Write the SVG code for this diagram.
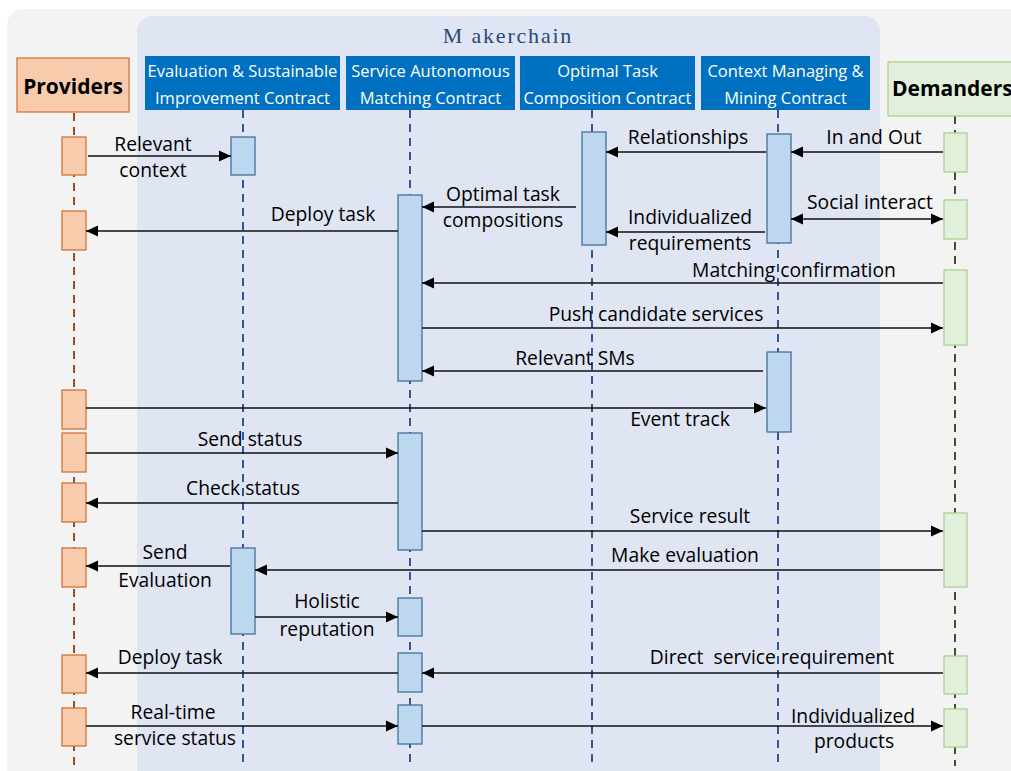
<svg xmlns="http://www.w3.org/2000/svg" width="1011" height="771" viewBox="0 0 1011 771">
  <defs>
    <marker id="head" viewBox="0 0 12 12" refX="12" refY="6" markerWidth="12" markerHeight="12" markerUnits="userSpaceOnUse" orient="auto-start-reverse">
      <path d="M0,0.5 L12,6 L0,11.5 Z" fill="#000"/>
    </marker>
    <style>
      .bg { fill: #f3f3f3; }
      .chain { fill: #dfe5f2; }
      .title { font-family: "Liberation Serif", serif; font-size: 22px; letter-spacing: 1.8px; fill: #2a4a78; text-anchor: middle; }
      .hdr { fill: #0070c0; }
      .hdrtxt { font-family: "Open Sans", "Noto Sans", sans-serif; font-size: 16.5px; fill: #ffffff; text-anchor: middle; }
      .actor { font-family: "Open Sans", "Noto Sans", sans-serif; font-size: 21px; font-weight: bold; fill: #000; }
      .prov { fill: #f8cbad; stroke: #d0743a; stroke-width: 1.3; }
      .dem { fill: #e2efda; stroke: #a9d18e; stroke-width: 1.3; }
      .blue { fill: #bdd7ee; stroke: #41719c; stroke-width: 1.3; }
      .life { fill: none; stroke-width: 2; stroke-dasharray: 8 6; }
      .lp { stroke: #9c4a1c; }
      .lb { stroke: #2f5597; }
      .lg { stroke: #375623; }
      .msg { fill: none; stroke: #111; stroke-width: 1.3; marker-end: url(#head); }
      .lbl { font-family: "Open Sans", "Noto Sans", sans-serif; font-size: 19.3px; fill: #000; text-anchor: middle; }
    </style>
  </defs>

  <!-- backgrounds -->
  <rect class="bg" x="7" y="9" width="1030" height="780" rx="16"/>
  <rect class="chain" x="137" y="16" width="743" height="770" rx="15"/>
  <text class="title" x="508" y="43" xml:space="preserve">M akerchain</text>

  <!-- lifelines -->
  <g id="lifelines">
    <line class="life lp" x1="74" y1="113" x2="74" y2="766"/>
    <line class="life lb" x1="243" y1="110" x2="243" y2="766"/>
    <line class="life lb" x1="410" y1="110" x2="410" y2="766"/>
    <line class="life lb" x1="592" y1="110" x2="592" y2="766"/>
    <line class="life lb" x1="778" y1="110" x2="778" y2="766"/>
    <line class="life lg" x1="955" y1="116" x2="955" y2="766"/>
  </g>

  <!-- participants -->
  <g id="providers">
    <rect class="prov" x="17" y="58" width="112" height="54"/>
    <text class="actor" x="73" y="94" text-anchor="middle">Providers</text>
    <rect class="prov" x="62" y="137" width="24" height="38"/>
    <rect class="prov" x="62" y="211" width="24" height="39"/>
    <rect class="prov" x="62" y="390" width="24" height="39"/>
    <rect class="prov" x="62" y="433" width="24" height="39"/>
    <rect class="prov" x="62" y="483" width="24" height="39"/>
    <rect class="prov" x="62" y="548" width="24" height="39"/>
    <rect class="prov" x="62" y="655" width="24" height="38"/>
    <rect class="prov" x="62" y="708" width="24" height="38"/>
  </g>

  <g id="evaluation-contract">
    <rect class="hdr" x="145" y="56" width="195" height="54"/>
    <text class="hdrtxt" x="242.5" y="77">Evaluation &amp; Sustainable</text>
    <text class="hdrtxt" x="242.5" y="104">Improvement Contract</text>
    <rect class="blue" x="231" y="137" width="24" height="38"/>
    <rect class="blue" x="231" y="548" width="24" height="86"/>
  </g>

  <g id="matching-contract">
    <rect class="hdr" x="346" y="56" width="169" height="54"/>
    <text class="hdrtxt" x="430.5" y="77">Service Autonomous</text>
    <text class="hdrtxt" x="430.5" y="104">Matching Contract</text>
    <rect class="blue" x="398" y="195" width="24" height="186"/>
    <rect class="blue" x="398" y="433" width="24" height="117"/>
    <rect class="blue" x="398" y="598" width="24" height="38"/>
    <rect class="blue" x="398" y="653" width="24" height="39"/>
    <rect class="blue" x="398" y="705" width="24" height="39"/>
  </g>

  <g id="composition-contract">
    <rect class="hdr" x="520" y="56" width="175" height="54"/>
    <text class="hdrtxt" x="607.5" y="77">Optimal Task</text>
    <text class="hdrtxt" x="607.5" y="104">Composition Contract</text>
    <rect class="blue" x="582" y="132" width="24" height="113"/>
  </g>

  <g id="context-contract">
    <rect class="hdr" x="701" y="56" width="169" height="54"/>
    <text class="hdrtxt" x="785.5" y="77">Context Managing &amp;</text>
    <text class="hdrtxt" x="785.5" y="104">Mining Contract</text>
    <rect class="blue" x="767" y="134" width="24" height="109"/>
    <rect class="blue" x="767" y="352" width="24" height="80"/>
  </g>

  <g id="demanders">
    <rect class="dem" x="888" y="62" width="140" height="54"/>
    <text class="actor" x="892" y="96">Demanders</text>
    <rect class="dem" x="944" y="133" width="23" height="39"/>
    <rect class="dem" x="944" y="200" width="23" height="39"/>
    <rect class="dem" x="944" y="270" width="23" height="75"/>
    <rect class="dem" x="944" y="513" width="23" height="74"/>
    <rect class="dem" x="944" y="656" width="23" height="38"/>
    <rect class="dem" x="944" y="709" width="23" height="38"/>
  </g>

  <!-- messages -->
  <g id="connectors">
    <line class="msg" x1="88" y1="156" x2="231" y2="156"/>
    <line class="msg" x1="398" y1="231" x2="86" y2="231"/>
    <line class="msg" x1="766" y1="152" x2="606" y2="152"/>
    <line class="msg" x1="943" y1="152" x2="791" y2="152"/>
    <line class="msg" x1="576" y1="207" x2="422" y2="207"/>
    <line class="msg" x1="765" y1="232" x2="606" y2="232"/>
    <line class="msg" x1="791" y1="219" x2="943" y2="219" marker-start="url(#head)"/>
    <line class="msg" x1="943" y1="283" x2="422" y2="283"/>
    <line class="msg" x1="422" y1="328" x2="943" y2="328"/>
    <line class="msg" x1="763" y1="371" x2="422" y2="371"/>
    <line class="msg" x1="86" y1="408" x2="766" y2="408"/>
    <line class="msg" x1="86" y1="453" x2="398" y2="453"/>
    <line class="msg" x1="398" y1="503" x2="86" y2="503"/>
    <line class="msg" x1="422" y1="531" x2="943" y2="531"/>
    <line class="msg" x1="943" y1="570" x2="255" y2="570"/>
    <line class="msg" x1="230" y1="566" x2="86" y2="566"/>
    <line class="msg" x1="255" y1="617" x2="398" y2="617"/>
    <line class="msg" x1="398" y1="673" x2="86" y2="673"/>
    <line class="msg" x1="943" y1="673" x2="422" y2="673"/>
    <line class="msg" x1="86" y1="726" x2="398" y2="726"/>
    <line class="msg" x1="422" y1="726" x2="943" y2="726"/>
  </g>

  <!-- message labels -->
  <g id="labels">
    <text class="lbl" x="153" y="151">Relevant</text>
    <text class="lbl" x="153" y="177">context</text>
    <text class="lbl" x="323" y="221">Deploy task</text>
    <text class="lbl" x="688" y="144">Relationships</text>
    <text class="lbl" x="874" y="144">In and Out</text>
    <text class="lbl" x="503" y="201">Optimal task</text>
    <text class="lbl" x="503" y="227">compositions</text>
    <text class="lbl" x="690" y="224">Individualized</text>
    <text class="lbl" x="690" y="250">requirements</text>
    <text class="lbl" x="870" y="209">Social interact</text>
    <text class="lbl" x="794" y="277">Matching confirmation</text>
    <text class="lbl" x="656" y="321">Push candidate services</text>
    <text class="lbl" x="575" y="365">Relevant SMs</text>
    <text class="lbl" x="680" y="426">Event track</text>
    <text class="lbl" x="250" y="446">Send status</text>
    <text class="lbl" x="243" y="495">Check status</text>
    <text class="lbl" x="690" y="523">Service result</text>
    <text class="lbl" x="685" y="562">Make evaluation</text>
    <text class="lbl" x="165" y="559">Send</text>
    <text class="lbl" x="165" y="587">Evaluation</text>
    <text class="lbl" x="327" y="608">Holistic</text>
    <text class="lbl" x="327" y="636">reputation</text>
    <text class="lbl" x="170" y="664">Deploy task</text>
    <text class="lbl" x="772" y="664" xml:space="preserve">Direct  service requirement</text>
    <text class="lbl" x="173" y="719">Real-time</text>
    <text class="lbl" x="175" y="745">service status</text>
    <text class="lbl" x="853" y="723">Individualized</text>
    <text class="lbl" x="854" y="748">products</text>
  </g>
</svg>
